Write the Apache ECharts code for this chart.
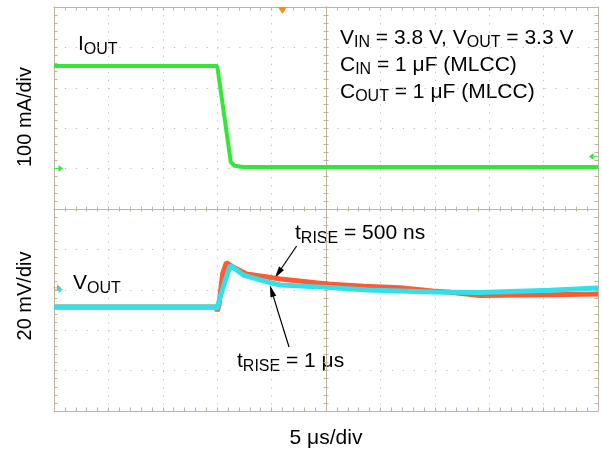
<!DOCTYPE html>
<html>
<head>
<meta charset="utf-8">
<title>Load transient</title>
<script src="https://cdn.jsdelivr.net/npm/echarts@6/dist/echarts.min.js"></script>
<style>
  html, body { margin: 0; padding: 0; background: #fff; }
  #chart { width: 602px; height: 453px; }
</style>
</head>
<body>
<div id="chart"></div>
<script>
// time base 5 us/div, 10 div
var timeRange = [0, 50];
// upper trace 100 mA/div, lower trace 20 mV/div
var ioutRange = [-100, 400];
var voutRange = [-60, 40];

// I_OUT  [us, mA]
var ioutTrace = [[0, 254], [15.0, 254], [15.6, 140], [16.25, 16], [16.6, 7], [17.4, 4], [50, 4]];
// V_OUT, t_RISE = 500 ns  [us, mV]
var vout500ns = [[0, -8.5], [14.9, -8.5], [15.0, -10.5], [15.15, -8], [15.5, 8], [15.85, 13.5], [16.45, 11.3],
  [17.7, 7.8], [19.6, 6.3], [20.8, 5.3], [25.1, 2.9], [28.5, 1.8], [31.8, 1.0], [34.8, -0.6], [36.4, -1.2],
  [39.2, -2.8], [42.8, -2.6], [45.6, -2.5], [50, -2.1]];
// V_OUT, t_RISE = 1 us
var vout1us = [[0, -8.5], [14.8, -8.5], [15.0, -9.5], [15.2, -5], [15.7, 4], [16.2, 12], [16.6, 10.5],
  [17.4, 7.3], [19.6, 3.9], [20.8, 2.4], [25.1, 1.2], [28.8, -0.1], [34.8, -1.1], [39.2, -1.3], [45.6, -0.2], [50, 0.9]];

// scope markers
var trigTime = 21;
var ioutGround = 0, ioutTrigLevel = 30, voutGround = 0;
// annotation arrows [tail, head]  (us, mV)
var arrow500ns = [[22.3, 21.7], [20.6, 8.2]];
var arrow1us = [[21.6, -28.3], [20.0, -0.5]];

var green = '#36e636', red = '#ff5a36', cyan = '#2fe2ea', orange = '#ff8a1c';
var frame = '#bfb39b', dots = '#bdbdbd';
var font = '"Liberation Sans", Arial, Helvetica, sans-serif';
var arrowSym = 'path://M0,5L6,5L6,1L12,5.5L6,10L6,6L0,6Z';

function ax(o, tickLen) {
  return Object.assign({
    type: 'value',
    axisLabel: { show: false },
    axisLine: { show: true, onZero: false, lineStyle: { color: frame, width: 1 } },
    axisTick: { show: true, inside: true, length: tickLen || 3.5, lineStyle: { color: frame } },
    minorTick: { show: true, splitNumber: 5, length: tickLen || 3.5, lineStyle: { color: frame } },
    splitLine: { show: false }
  }, o);
}
function xAx(grid, pos, split) {
  // outer frame gets longer ticks than the centre line
  var outer = (pos === 'top' && grid === 0) || (pos === 'bottom' && grid === 1);
  var o = ax({ gridIndex: grid, position: pos, min: timeRange[0], max: timeRange[1], interval: 5 }, outer ? 3.5 : 2.5);
  if (split) o.splitLine = { show: true, lineStyle: { color: dots, width: 1, type: [1.2, 6.9] } };
  return o;
}
function yAx(grid, range, step, pos, offset, split) {
  var o = ax({ gridIndex: grid, position: pos, offset: offset, min: range[0], max: range[1], interval: step },
    offset ? 2.5 : 3.5);
  if (split) o.splitLine = { show: true, lineStyle: { color: dots, width: 1, type: [1.2, 9.7] } };
  return o;
}

// main text and lowered subscripts
var rich = {
  m: { fontSize: 21, lineHeight: 27, height: 27, verticalAlign: 'bottom', fontFamily: font, color: '#000' },
  s: { fontSize: 16, lineHeight: 17, height: 17, verticalAlign: 'bottom', fontFamily: font, color: '#000' }
};
function label(x, y, text, align) {
  return { type: 'text', x: x, y: y, silent: true,
    style: { text: text, rich: rich, fill: '#000', font: '21px ' + font, align: align || 'left', verticalAlign: 'top' } };
}

var chart = echarts.init(document.getElementById('chart'));
chart.setOption({
  animation: false,
  backgroundColor: '#fff',
  grid: [
    { left: 54, top: 7, width: 544, height: 202, outerBoundsMode: 'none' },
    { left: 54, top: 209, width: 544, height: 202, outerBoundsMode: 'none' }
  ],
  xAxis: [xAx(0, 'top', true), xAx(0, 'bottom'), xAx(1, 'top'), xAx(1, 'bottom', true)],
  yAxis: [
    yAx(0, ioutRange, 100, 'left', 0, true), yAx(0, ioutRange, 100, 'right', 0),
    yAx(0, ioutRange, 100, 'left', -272), yAx(0, ioutRange, 100, 'right', -272),
    yAx(1, voutRange, 20, 'left', 0, true), yAx(1, voutRange, 20, 'right', 0),
    yAx(1, voutRange, 20, 'left', -272), yAx(1, voutRange, 20, 'right', -272)
  ],
  series: [
    {
      name: 'IOUT', type: 'line', xAxisIndex: 0, yAxisIndex: 0, data: ioutTrace,
      symbol: 'none', clip: false, lineStyle: { color: green, width: 4 }, z: 5,
      markPoint: {
        silent: true, label: { show: false },
        data: [
          { coord: [timeRange[0], ioutGround], symbol: arrowSym, symbolSize: [9, 7], symbolOffset: [4.5, 0], itemStyle: { color: green } },
          { coord: [timeRange[1], ioutTrigLevel], symbol: arrowSym, symbolSize: [9, 7], symbolRotate: 180, symbolOffset: [-4.5, 0], itemStyle: { color: green } },
          { coord: [trigTime, ioutRange[1]], symbol: 'triangle', symbolSize: [9, 7], symbolRotate: 180, symbolOffset: [0, 3.5], itemStyle: { color: orange } }
        ]
      }
    },
    {
      name: 'VOUT 500ns', type: 'line', xAxisIndex: 3, yAxisIndex: 4, data: vout500ns,
      symbol: 'none', clip: false, lineStyle: { color: red, width: 5 }, z: 5,
      markPoint: {
        silent: true, label: { show: false },
        data: [{ coord: [timeRange[0], voutGround + 1], symbol: arrowSym, symbolSize: [8, 7], symbolOffset: [3, 0], itemStyle: { color: orange } }]
      },
      markLine: {
        silent: true, symbol: ['none', 'path://M3,0L6,12L0,12Z'], symbolSize: 12, symbolKeepAspect: true,
        label: { show: false }, lineStyle: { color: '#000', width: 1.2, type: 'solid' },
        data: [
          [{ coord: arrow500ns[0] }, { coord: arrow500ns[1] }],
          [{ coord: arrow1us[0] }, { coord: arrow1us[1] }]
        ]
      }
    },
    {
      name: 'VOUT 1us', type: 'line', xAxisIndex: 3, yAxisIndex: 4, data: vout1us,
      symbol: 'none', clip: false, lineStyle: { color: cyan, width: 5 }, z: 6,
      markPoint: {
        silent: true, label: { show: false },
        data: [{ coord: [timeRange[0], voutGround], symbol: arrowSym, symbolSize: [9, 7], symbolOffset: [4.5, 0], itemStyle: { color: cyan } }]
      }
    }
  ],
  graphic: [
    label(78, 31, '{m|I}{s|OUT}'),
    label(340, 24.5, '{m|V}{s|IN}{m| = 3.8 V, V}{s|OUT}{m| = 3.3 V}\n{m|C}{s|IN}{m| = 1 μF (MLCC)}\n{m|C}{s|OUT}{m| = 1 μF (MLCC)}'),
    label(73, 270, '{m|V}{s|OUT}'),
    label(295, 220, '{m|t}{s|RISE}{m| = 500 ns}'),
    label(237, 348, '{m|t}{s|RISE}{m| = 1 μs}'),
    label(326, 424.5, '{m|5 μs/div}', 'center'),
    { type: 'text', x: 25, y: 117, rotation: Math.PI / 2, silent: true,
      style: { text: '100 mA/div', font: '20px ' + font, fill: '#000', align: 'center', verticalAlign: 'middle' } },
    { type: 'text', x: 25, y: 296, rotation: Math.PI / 2, silent: true,
      style: { text: '20 mV/div', font: '20px ' + font, fill: '#000', align: 'center', verticalAlign: 'middle' } }
  ]
});
</script>
</body>
</html>
